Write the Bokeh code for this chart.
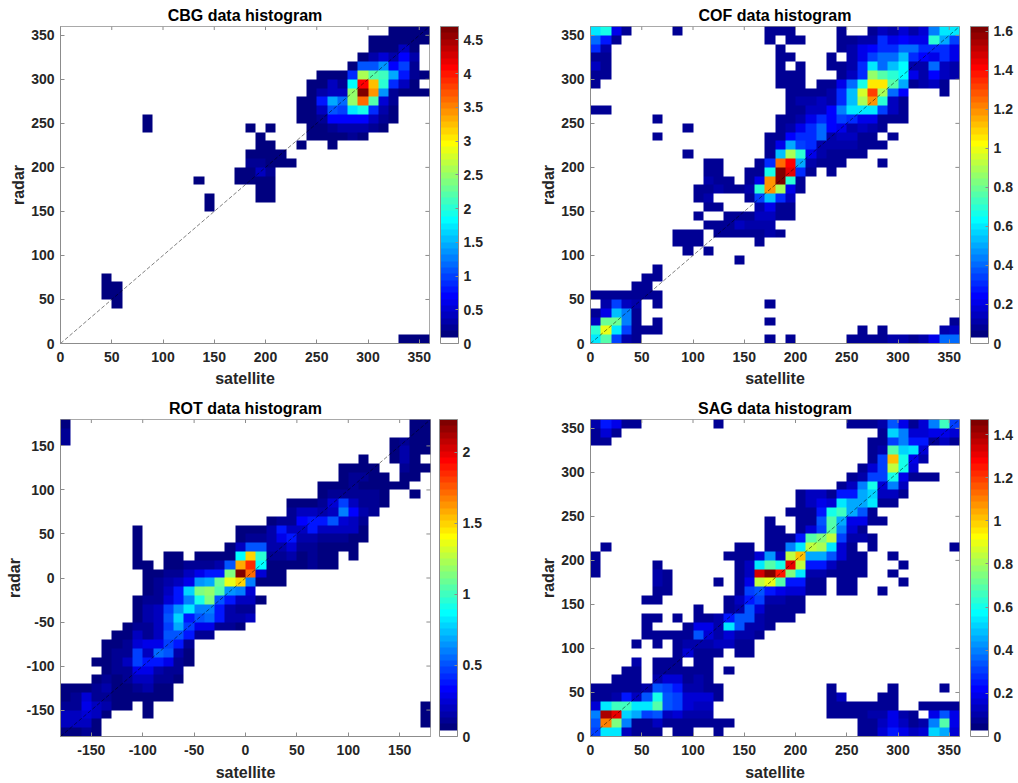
import numpy as np
from bokeh.embed import file_html
from bokeh.resources import INLINE
from bokeh.layouts import column, row
from bokeh.models import ColorBar, FixedTicker, LinearColorMapper, Range1d
from bokeh.plotting import figure

D = 0.08   # lowest visible level in the three fine-scaled panels
C = 0.13   # lowest visible level in the CBG panel

# Each table: radar bin -> list of (first satellite bin, values). Bins are 10 degrees wide.
cbg_rows = {
 35: [(32, [C, C, C, C])],
 34: [(30, [C, C, C, C, C, C])],
 33: [(30, [C, .15, .18, .4, .18])],
 32: [(29, [.15, .3, .5, .3, .7, .3])],
 31: [(28, [.15, 1.1, 1.1, 1.35, .7, 1.0, .25])],
 30: [(25, [C, C, C, .9, 2.6, 2.2, 2.1, 1.5, .8, .2, C])],
 29: [(24, [C, .15, .4, .25, 1.8, 4.1, 3.2, 2.0, .9, .4, .15])],
 28: [(24, [C, .35, .45, .45, 2.5, 4.7, 3.4, 1.4, .25, C, C, C])],
 27: [(23, [C, .15, .8, 1.5, 1.2, 2.5, 3.6, 2.2, .5, .2])],
 26: [(23, [C, .15, .45, 1.1, 1.0, 1.7, 1.9, .9, .3, .15])],
 25: [(8, [C]), (23, [C, .15, .2, .7, .7, .7, .7, .45, .2, .15])],
 24: [(8, [C]), (18, [C]), (20, [C]), (24, [C, .15, .2, .3, .35, .3, .2, .15])],
 23: [(19, [C]), (24, [C, C, .15, .15, .2, .15])],
 22: [(19, [C, C]), (23, [C]), (26, [C])],
 21: [(18, [C, .15, .15, C])],
 20: [(18, [.2, .2, .15, C, C])],
 19: [(17, [C, .15, .4, .25])],
 18: [(13, [C]), (17, [C, C, .15, .15])],
 17: [(19, [C, C])],
 16: [(14, [C]), (19, [C, C])],
 15: [(14, [C])],
 7: [(4, [C])],
 6: [(4, [C, C])],
 5: [(4, [C, C])],
 4: [(5, [C])],
 0: [(33, [C, C, C])],
}

cof_rows = {
 35: [(0, [.6, .65, .2, D]), (8, [D]), (17, [D, D, D]), (24, [D]), (27, [D, .15, .12, .18, .12, .18, .45, .6, .6])],
 34: [(0, [.42, .28, D]), (17, [D]), (19, [D, D]), (24, [D, D, .12, .1, .3, .2, .25, .2, .2, .7, .5, .35])],
 33: [(0, [.3, .12]), (18, [D]), (24, [D, .1, .2, .25, .3, .3, .4, .4, .3, .3, .3, .2])],
 32: [(0, [D, D]), (18, [D, D]), (23, [D]), (25, [.1, .2, .35, .42, .42, .55, .3, .25, .2, .3, .2])],
 31: [(0, [.15, D]), (18, [D]), (20, [D]), (23, [D, D, .1, .3, .6, .42, .55, .62, .12, .12, .4, .15, .12])],
 30: [(0, [D, D]), (18, [D, D, D]), (24, [D, .15, .3, .85, .75, .7, .62, .2, .1, .25, .15, .1])],
 29: [(0, [D]), (18, [D, D, D]), (22, [D, D, .2, .4, .65, 1.05, 1.05, .75, .5, D, .1, .15, D])],
 28: [(19, [D, D, D, D, .1, .3, .55, .95, 1.3, .9, .4, .25]), (34, [D])],
 27: [(19, [D, .1, .1, .15, .1, .3, .55, .9, 1.2, .7, .15, D])],
 26: [(0, [D, D]), (19, [D, D, .15, .15, .25, .45, .6, .6, .6, .35, .15, D])],
 25: [(6, [D]), (18, [D, D, .1, .2, .3, .25, .35, .3, .2, .2, D, D, D])],
 24: [(9, [D]), (18, [D, .1, .2, .3, .4, .25, .2, .1, .15, .1, D])],
 23: [(6, [D]), (17, [D, D, .25, .3, .3, .4, .1, .15, .15, D, D]), (29, [D])],
 22: [(17, [D, .2, .5, .35, .3, .1, .1, .12, .12, D, D, D])],
 21: [(9, [D]), (17, [D, .55, .9, .7, .2, .12, D, D, D, D])],
 20: [(11, [D, D]), (16, [D, .3, 1.25, 1.4, .5, .1, D, D, D]), (28, [D])],
 19: [(11, [D, D]), (15, [D, D, .65, 1.62, 1.45, .3, D]), (23, [D])],
 18: [(11, [.12, D, D]), (15, [D, .2, 1.2, 1.6, .7, D])],
 17: [(10, [D, D, .1, D, D, .12, .7, 1.2, .9, .2, D])],
 16: [(10, [D, .1]), (15, [D, .35, .55, .3, .15])],
 15: [(11, [D, D]), (16, [.1, .2, D, D])],
 14: [(10, [D]), (13, [D, D, D, .15, .15, D, D])],
 13: [(11, [D, D, D, .15, .1, .12, .1])],
 12: [(8, [D, D, D]), (12, [D, D, D, D, D, .1, D])],
 11: [(8, [D, D, D]), (16, [D])],
 10: [(9, [D]), (11, [D])],
 9: [(14, [D])],
 8: [(6, [D])],
 7: [(5, [D, D])],
 6: [(4, [D, D])],
 5: [(0, [D, D, D, D, D, D, D])],
 4: [(1, [.1, .35, .15, .1]), (6, [D]), (17, [D])],
 3: [(0, [D, .2, .55, .45, D])],
 2: [(0, [.15, .8, .8, .45, D]), (6, [D]), (17, [D]), (35, [D])],
 1: [(0, [.7, 1.0, .6, .35, D, D, D]), (26, [D]), (28, [D]), (34, [.1, .15])],
 0: [(0, [.6, .75, .35, .12, D]), (17, [D]), (19, [D]), (25, [D, D, D, D, .1, .1, D, .1, .2, .4, .4])],
}

rot_rows = {
 35: [(0, [D]), (34, [D, D])],
 34: [(0, [.1]), (34, [D, D])],
 33: [(0, [.1]), (32, [D, .12, D, D])],
 32: [(32, [D, .15, D, D])],
 31: [(29, [D]), (32, [D, .15, D])],
 30: [(27, [D, D, D, D]), (33, [.12, D, D])],
 29: [(27, [D, .1, .1, D, D]), (33, [D, D])],
 28: [(25, [D, D, D, .1, D, D, D, D, D])],
 27: [(25, [D, .12, .1, .12, .12, .1, D]), (34, [D])],
 26: [(22, [D, D, D, .1, .25, .45, .2, .12, .1, D])],
 25: [(22, [.1, .2, .2, .15, .2, .6, .35, .15, .1])],
 24: [(20, [D, .12, .12, .35, .4, .4, .5, .25, .2, .1])],
 23: [(7, [D]), (17, [D, D, D, .15, .4, .2, .2, .4, .2, .2, .2, .18, D])],
 22: [(7, [D]), (17, [D, .1, .1, .15, .3, .4, .15, .15, .1, .1, .1, D, D])],
 21: [(7, [D]), (16, [D, .2, .5, .5, .15, .15, .25, .1, .1, D, D, D, D])],
 20: [(7, [D]), (10, [D, D]), (13, [D, D, D, D, .85, 1.5, .95, .1, .1, .15, D, .1, D, D]), (28, [D])],
 19: [(7, [D, D]), (10, [D, D, .1, .1, .12, .15, .5, 1.6, 1.85, .85, D, D, D, D, .1, D, D])],
 18: [(8, [D, D, .1, .1, .2, .3, .4, .4, 1.15, 2.23, 1.7, .25, D, D])],
 17: [(8, [D, .1, .15, .2, .3, .65, .7, 1.1, 1.35, 1.5, .6, D, D, D])],
 16: [(8, [D, .1, .2, .4, .8, 1.15, 1.2, 1.05, .65, .6, .25])],
 15: [(7, [D, .1, .12, .25, .4, .62, .9, 1.12, .52, .4, .22, .2, D])],
 14: [(7, [D, .15, .2, .45, .65, .82, .6, .6, .4, .15, .1, .12])],
 13: [(7, [D, .15, .2, .5, .8, .4, .5, .55, .4, .15, .15, .2])],
 12: [(6, [D, .1, .12, .2, .45, .7, .45, .3, .3, .1, .1, D])],
 11: [(5, [D, D, .2, .12, .2, .5, .5, .4, .1, .1])],
 10: [(4, [D, D, .1, .25, .3, .3, .45, .4, .1])],
 9: [(4, [D, .12, .1, .45, .2, .55, .5, .15, D])],
 8: [(3, [D, D, .1, .2, .45, .4, .4, .3, .12, D])],
 7: [(4, [D, .1, .1, .3, .3, .15, .1, .1])],
 6: [(3, [D, .1, D, .1, .2, .2, .1, .1, D])],
 5: [(0, [D, D, D, .1, .15, D, D, .12, .15, D, D])],
 4: [(0, [D, .1, .25, .1, .1, D, D, D, D, D, D])],
 3: [(0, [.1, .12, .28, .2, .15, D, D]), (8, [D]), (35, [D])],
 2: [(0, [.2, .2, .25, .18, D]), (8, [D]), (35, [D])],
 1: [(0, [.2, .2, .2, D]), (35, [D])],
 0: [(0, [D, D, .1, D])],
}

sag_rows = {
 35: [(0, [.1, .25, .2, D, D]), (12, [D]), (25, [D, D, D, .1, .35, .2, D, .15, .4, .65, .3])],
 34: [(0, [D, .15, D]), (28, [D, .5, .4, .15, .15, .2, .2, .15])],
 33: [(0, [D, D]), (27, [D, D, .3, .4, .25, .25, D, .12, D])],
 32: [(27, [D, .1, .7, .5, .55, .15])],
 31: [(27, [D, .3, 1.0, .6, .2, .1])],
 30: [(26, [D, .15, .3, .85, .6, .15])],
 29: [(25, [D, .1, .3, .3, .6, .2, D, D, D])],
 28: [(24, [D, .12, .4, .6, .15, .4, .12])],
 27: [(20, [D, .12, .12, D, .25, .25, .45, .5, .12, .12, D])],
 26: [(20, [D, .12, .2, .15, .55, .45, .45, .55, D, D])],
 25: [(19, [D, D, D, .25, .6, .65, .45, .35, D])],
 24: [(17, [D]), (20, [D, D, .35, .7, .45, .2, .2, D, D])],
 23: [(17, [D, D]), (20, [D, .15, .3, .7, .4, .15, D])],
 22: [(17, [D, D, D, .25, .7, .75, .85, .3, .1, .1, D])],
 21: [(1, [D]), (14, [D, D]), (17, [D, D, .4, .55, .85, .8, .55, .15, D]), (27, [D]), (35, [D])],
 20: [(0, [D]), (13, [D, D, D, .15, .42, .12, .85, 1.0, .45, .45, .35, .15, D, D]), (29, [D])],
 19: [(0, [D]), (6, [D]), (14, [D, .12, .55, .7, .6, 1.3, .85, .25, .25, .12, D, D, D]), (30, [D])],
 18: [(0, [D]), (6, [.1, D]), (14, [D, .12, 1.35, 1.47, 1.25, .75, .55, .1, .1, D, D, D, D]), (29, [D])],
 17: [(6, [.1, D]), (12, [D]), (14, [D, .2, .85, .9, .7, .25, .25, D, D]), (24, [D, D]), (30, [D])],
 16: [(6, [D, D]), (14, [D, .3, .35, .25, .2, .15, .15, D, D]), (24, [D, D]), (28, [D])],
 15: [(5, [D, D]), (13, [D, .12, .25, .3, .1, .1, D, D])],
 14: [(10, [D]), (13, [D, .1, .35, .15, D, D, D, D])],
 13: [(5, [D, D]), (8, [D]), (10, [D, D, .1, .25, .35, .35, .1, D, D, D])],
 12: [(5, [D]), (9, [D, .2, .2, .1, .55, .35, .1, .1, D])],
 11: [(5, [D, D, D, D, D, .35, .15, .1, .15, .1, .1, D])],
 10: [(4, [D]), (6, [D]), (8, [D, .1, .1, .1, .12, .12, D, D])],
 9: [(8, [D, .15, D, D, D]), (14, [D, D])],
 8: [(4, [.1]), (6, [D, D, D]), (10, [D, D])],
 7: [(3, [D, D]), (6, [D, D, D, D, D, D]), (13, [D])],
 6: [(2, [D, D, D]), (6, [.1, .15, .15, D, .1, D])],
 5: [(0, [D, D, D, D, D, .1, .35, .3, .25, .1, .1, D, D]), (23, [D]), (29, [D]), (34, [D])],
 4: [(0, [D, D, .1, .25, .12, .35, .6, .35, .3, .15, .15, .15, D]), (23, [D, .12]), (28, [D, D])],
 3: [(0, [.15, .55, .65, .65, .55, .55, .7, .35, .3, .15, .12, .12]), (23, [D, D, D, D, D, D, D]), (32, [D, D, D, D])],
 2: [(0, [.4, 1.4, 1.3, .5, .45, .3, .35, .12, .15, .1, .1, .1]), (23, [D, D, D, D, .1, .1, .2, .1, D]), (33, [.2, .35, .2])],
 1: [(0, [.35, 1.1, .75, .4, D, D, .12, D, D, D, D, D, D, D]), (26, [D, D, .12, .2, .12, D, .1, .4, .7, .2])],
 0: [(0, [.3, .55, .55, .12, D, D, D]), (8, [D, D]), (12, [D]), (26, [D, D, .15, .25, .2, .12, .15, .5, .45, .15])],
}

titles = ["CBG data histogram", "COF data histogram", "ROT data histogram", "SAG data histogram"]
x_label = "satellite"
y_label = "radar"
cbar_max = [4.7, 1.625, 2.23, 1.47]
cbar_ticks = [[0, .5, 1, 1.5, 2, 2.5, 3, 3.5, 4, 4.5],
              [0, .2, .4, .6, .8, 1, 1.2, 1.4, 1.6],
              [0, .5, 1, 1.5, 2],
              [0, .2, .4, .6, .8, 1, 1.2, 1.4]]
cbar_labels = [{0: "0", .5: "0.5", 1: "1", 1.5: "1.5", 2: "2", 2.5: "2.5", 3: "3", 3.5: "3.5", 4: "4", 4.5: "4.5"},
               {0: "0", .2: "0.2", .4: "0.4", .6: "0.6", .8: "0.8", 1: "1", 1.2: "1.2", 1.4: "1.4", 1.6: "1.6"},
               {0: "0", .5: "0.5", 1: "1", 1.5: "1.5", 2: "2"},
               {0: "0", .2: "0.2", .4: "0.4", .6: "0.6", .8: "0.8", 1: "1", 1.2: "1.2", 1.4: "1.4"}]
ticks_full = [0, 50, 100, 150, 200, 250, 300, 350]
ticks_signed = [-150, -100, -50, 0, 50, 100, 150]

FONT = "Liberation Sans"
TICK_COL = "#262626"
BOX_COL = "#8c8c8c"


def jet_palette(n):
    out = ["#ffffff"]
    for t in np.linspace(0, 1, n - 1):
        r = np.clip(min(4 * t - 1.5, -4 * t + 4.5), 0, 1)
        g = np.clip(min(4 * t - 0.5, -4 * t + 3.5), 0, 1)
        b = np.clip(min(4 * t + 0.5, -4 * t + 2.5), 0, 1)
        out.append("#%02x%02x%02x" % (int(r * 255), int(g * 255), int(b * 255)))
    return out


PALETTE = jet_palette(50)


def panel(rows, idx, origin, ticks, frame_w, left, right, top, bottom, label_standoff, y_standoff, bar_gap):
    mapper = LinearColorMapper(palette=PALETTE, low=0, high=cbar_max[idx])
    grid = np.zeros((36, 36))
    for r, segments in rows.items():
        for start, values in segments:
            grid[r, start:start + len(values)] = values
    end = origin + 360
    p = figure(width=frame_w + left + right, height=317 + top + bottom,
               frame_width=frame_w, frame_height=317,
               x_range=Range1d(origin, end), y_range=Range1d(origin, end),
               output_backend="svg", toolbar_location=None,
               min_border_left=left, min_border_right=right,
               min_border_top=top, min_border_bottom=bottom, title=titles[idx])
    p.image(image=[grid], x=origin, y=origin, dw=360, dh=360, color_mapper=mapper)
    p.line([origin, end], [origin, end], line_color="black", line_width=0.5, line_dash="4 2")
    # inward tick marks on the top and right sides of the box
    p.segment(x0=ticks, x1=ticks, y0=end, y1=end - 4, line_color=BOX_COL, line_width=1)
    p.segment(x0=end, x1=end - 4, y0=ticks, y1=ticks, line_color=BOX_COL, line_width=1)

    p.grid.visible = False
    p.outline_line_color = BOX_COL
    p.outline_line_width = 1
    p.title.align = "center"
    p.title.text_font = FONT
    p.title.text_font_size = "16px"
    p.title.text_font_style = "bold"
    p.title.text_color = "black"
    p.title.standoff = 5

    for axis, label in ((p.xaxis[0], x_label), (p.yaxis[0], y_label)):
        axis.ticker = FixedTicker(ticks=ticks)
        axis.major_label_overrides = {t: str(t) for t in ticks}
        axis.axis_label = label
        axis.axis_label_text_font = FONT
        axis.axis_label_text_font_size = "16px"
        axis.axis_label_text_font_style = "bold"
        axis.axis_label_text_color = TICK_COL
        axis.axis_line_color = BOX_COL
        axis.major_tick_in = 4
        axis.major_tick_out = 0
        axis.minor_tick_line_color = None
        axis.major_tick_line_color = BOX_COL
        axis.major_label_text_font = FONT
        axis.major_label_text_font_size = "14px"
        axis.major_label_text_font_style = "bold"
        axis.major_label_text_color = TICK_COL
    p.xaxis[0].major_label_standoff = 8
    p.yaxis[0].major_label_standoff = 6
    p.xaxis[0].axis_label_standoff = label_standoff
    p.yaxis[0].axis_label_standoff = y_standoff

    cb = ColorBar(color_mapper=mapper, width=18, height=317, location=(bar_gap, 0), margin=0, padding=0,
                  ticker=FixedTicker(ticks=cbar_ticks[idx]),
                  major_label_overrides=cbar_labels[idx],
                  major_label_text_font=FONT, major_label_text_font_size="14px",
                  major_label_text_font_style="bold", major_label_text_color=TICK_COL,
                  major_tick_in=3, major_tick_line_color=BOX_COL,
                  minor_tick_line_color=None, bar_line_color=BOX_COL, bar_line_width=1,
                  label_standoff=5, border_line_color=None, background_fill_color=None)
    p.add_layout(cb, "right")
    return p


p1 = panel(cbg_rows, 0, 0, ticks_full, 369, 60, 101, 26, 50, 5, 1, 11)
p2 = panel(cof_rows, 1, 0, ticks_full, 369, 60, 51, 26, 50, 5, 1, 11)
p3 = panel(rot_rows, 2, -180, ticks_signed, 370, 60, 100, 26, 44, 6, 0, 9)
p4 = panel(sag_rows, 3, 0, ticks_full, 369, 60, 51, 26, 44, 6, 1, 11)

page = column(row(p1, p2, spacing=0), row(p3, p4, spacing=0), spacing=0)
open("out.html", "w").write(file_html(page, INLINE))
